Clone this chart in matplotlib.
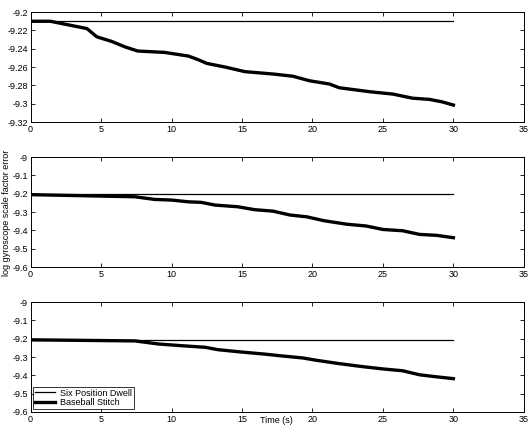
import matplotlib
matplotlib.use("Agg")
import matplotlib.pyplot as plt
from matplotlib.ticker import FuncFormatter

plt.rcParams['font.family'] = ['Liberation Sans', 'DejaVu Sans']
plt.rcParams['axes.unicode_minus'] = False

# Panel 1
t1 = [0, 1.4, 2.7, 4.0, 4.7, 5.75, 6.7, 7.6, 9.5, 11.2, 11.9, 12.5, 13.8, 15.2, 17.2,
      18.6, 19.8, 21.2, 21.9, 24.1, 25.7, 27.1, 28.3, 29.2, 30]
s1 = [-9.210, -9.210, -9.214, -9.218, -9.227, -9.232, -9.238, -9.2425, -9.244, -9.248,
      -9.252, -9.256, -9.260, -9.265, -9.2676, -9.270, -9.275, -9.2785, -9.2826, -9.287,
      -9.2895, -9.294, -9.2953, -9.298, -9.3015]
dwell1 = -9.210

# Panel 2
t2 = [0, 7.4, 8.8, 10.0, 11.2, 12.1, 13.1, 14.7, 15.9, 17.2, 18.4, 19.6, 20.8, 22.4,
      23.8, 25.0, 26.4, 27.6, 28.8, 30]
s2 = [-9.205, -9.2165, -9.231, -9.2345, -9.244, -9.247, -9.262, -9.271, -9.287, -9.295,
      -9.316, -9.326, -9.347, -9.366, -9.376, -9.395, -9.402, -9.422, -9.427, -9.44]
dwell2 = -9.204

# Panel 3
t3 = [0, 7.4, 9.1, 10.7, 12.4, 13.3, 15.0, 16.6, 17.7, 19.3, 20.3, 21.9, 23.4, 25.0,
      26.4, 27.6, 28.8, 30]
s3 = [-9.206, -9.212, -9.229, -9.238, -9.247, -9.260, -9.273, -9.284, -9.293, -9.305,
      -9.318, -9.336, -9.351, -9.365, -9.375, -9.397, -9.408, -9.418]
dwell3 = -9.207

ylims = [(-9.32, -9.2), (-9.6, -9.0), (-9.6, -9.0)]
yticks = [[-9.32, -9.3, -9.28, -9.26, -9.24, -9.22, -9.2],
          [-9.6, -9.5, -9.4, -9.3, -9.2, -9.1, -9.0],
          [-9.6, -9.5, -9.4, -9.3, -9.2, -9.1, -9.0]]
xticks = [0, 5, 10, 15, 20, 25, 30, 35]

fig = plt.figure(figsize=(5.31, 4.26), dpi=100)
left, width, height = 0.0576, 0.929, 0.258
bottoms = [0.7136, 0.3732, 0.0329]

data = [(t1, s1, dwell1), (t2, s2, dwell2), (t3, s3, dwell3)]
fmt = FuncFormatter(lambda v, p: '%g' % round(v, 3))

for i, (t, s, d) in enumerate(data):
    ax = fig.add_axes([left, bottoms[i], width, height])
    ax.plot([0, 30], [d, d], color='black', lw=0.9, label='Six Position Dwell')
    ax.plot(t, s, color='black', lw=2.4, label='Baseball Stitch')
    ax.set_xlim(0, 35)
    ax.set_ylim(*ylims[i])
    ax.set_xticks(xticks)
    ax.set_yticks(yticks[i])
    ax.yaxis.set_major_formatter(fmt)
    ax.tick_params(direction='in', top=True, right=True, labelsize=6.5, length=3, width=0.6, pad=2)
    for sp in ax.spines.values():
        sp.set_linewidth(0.7)
    if i == 2:
        ax.legend(loc='lower left', fontsize=6.5, frameon=True, fancybox=False,
                  edgecolor='black', borderpad=0.2, labelspacing=0.1, handlelength=2.2,
                  borderaxespad=0.3, handletextpad=0.6).get_frame().set_linewidth(0.7)

fig.text(0.012, 0.5, 'log gyroscope scale factor error', rotation=90, fontsize=6.5,
         va='center', ha='center')
fig.text(0.52, 0.002, 'Time (s)', fontsize=6.5, va='bottom', ha='center')

fig.savefig('out.png', dpi=100)
